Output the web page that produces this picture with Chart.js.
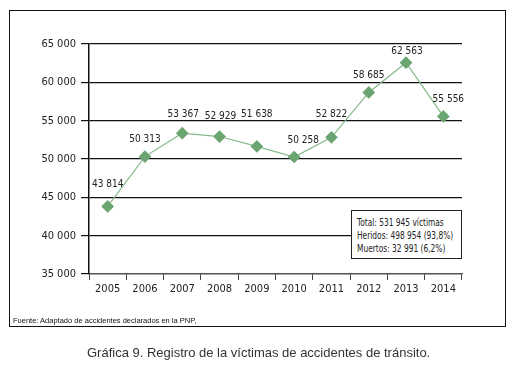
<!DOCTYPE html>
<html>
<head>
<meta charset="utf-8">
<script src="https://cdn.jsdelivr.net/npm/chart.js@4/dist/chart.umd.min.js"></script>
<style>
  html, body { margin: 0; padding: 0; background: #fff; }
  #wrap { position: relative; width: 519px; height: 378px; overflow: hidden; }
  #c { position: absolute; left: 0; top: 0; }
  #frame { position: absolute; left: 9px; top: 10px; width: 495px; height: 315px; border: 1.5px solid #111; }
  #note { position: absolute; left: 351px; top: 210px; width: 111px; height: 49px; border: 1.2px solid #222; background: #fff;
          box-sizing: border-box; }
  #note div { position: absolute; left: 5px; top: 5px; font-family: "DejaVu Sans Condensed", sans-serif; font-size: 10.5px;
          line-height: 13px; color: #222; white-space: nowrap; transform: scaleX(0.79); transform-origin: 0 0; }
  #src { position: absolute; left: 13px; top: 316px; font-family: "Liberation Sans", Arial, sans-serif; font-size: 7.5px; color: #111; }
  #cap { position: absolute; left: 87px; top: 345px; font-family: "Liberation Sans", Arial, sans-serif; font-size: 13px; color: #333; white-space: nowrap; }
</style>
</head>
<body>
<div id="wrap">
  <div id="frame"></div>
  <canvas id="c" width="519" height="378"></canvas>
  <div id="note"><div>Total: 531 945 víctimas<br>Heridos: 498 954 (93,8%)<br>Muertos: 32 991 (6,2%)</div></div>
  <div id="src">Fuente: Adaptado de accidentes declarados en la PNP,</div>
  <div id="cap">Gráfica 9. Registro de la víctimas de accidentes de tránsito.</div>
</div>
<script>
const years = ["2005", "2006", "2007", "2008", "2009", "2010", "2011", "2012", "2013", "2014"];
const victims = [43814, 50313, 53367, 52929, 51638, 50258, 52822, 58685, 62563, 55556];
const yTicks = [35000, 40000, 45000, 50000, 55000, 60000, 65000];

function fmt(v) { return String(v).replace(/\B(?=(\d{3})+(?!\d))/g, " "); }

const labelOffsets = [22, 17, 19, 20, 32, 17, 23, 17, 11, 17];
const labelShiftX = [0, 0, 1, 1, 0, 9, 0, 0, 1, 5];
const FONT = '"DejaVu Sans Condensed", sans-serif';

const valueLabels = {
  id: 'valueLabels',
  afterDatasetsDraw(chart) {
    const ctx = chart.ctx;
    const meta = chart.getDatasetMeta(0);
    ctx.save();
    ctx.font = '10px ' + FONT;
    ctx.fillStyle = '#222';
    ctx.textAlign = 'center';
    ctx.textBaseline = 'middle';
    meta.data.forEach((pt, i) => {
      ctx.fillText(fmt(victims[i]), pt.x + labelShiftX[i], pt.y - labelOffsets[i]);
    });
    ctx.restore();
  }
};

new Chart(document.getElementById('c'), {
  type: 'line',
  data: {
    labels: years,
    datasets: [{
      data: victims,
      borderColor: '#86b98a',
      borderWidth: 1.2,
      backgroundColor: '#6aa571',
      pointBackgroundColor: '#6aa571',
      pointBorderColor: '#6aa571',
      pointStyle: 'rectRot',
      pointRadius: 5.5,
      tension: 0
    }]
  },
  options: {
    responsive: false,
    animation: false,
    devicePixelRatio: 1,
    layout: { padding: { left: 0, top: 44, right: 57, bottom: 74 } },
    plugins: { legend: { display: false }, tooltip: { enabled: false } },
    scales: {
      x: {
        offset: true,
        grid: { drawOnChartArea: false, offset: true, color: '#444', tickLength: 6, lineWidth: 1 },
        border: { color: '#555', width: 1.2 },
        ticks: { color: '#222', font: { family: FONT, size: 11 }, padding: 3 },
        afterFit(s) { s.height = 30; }
      },
      y: {
        min: yTicks[0], max: yTicks[yTicks.length - 1],
        afterBuildTicks(s) { s.ticks = yTicks.map(v => ({ value: v })); },
        grid: { color: '#111', lineWidth: 1.2, tickLength: 8 },
        border: { color: '#111', width: 1.5 },
        ticks: { color: '#222', font: { family: FONT, size: 11 }, padding: 5, callback: v => fmt(v) },
        afterFit(s) { s.width = 89; }
      }
    }
  },
  plugins: [valueLabels]
});
</script>
</body>
</html>
